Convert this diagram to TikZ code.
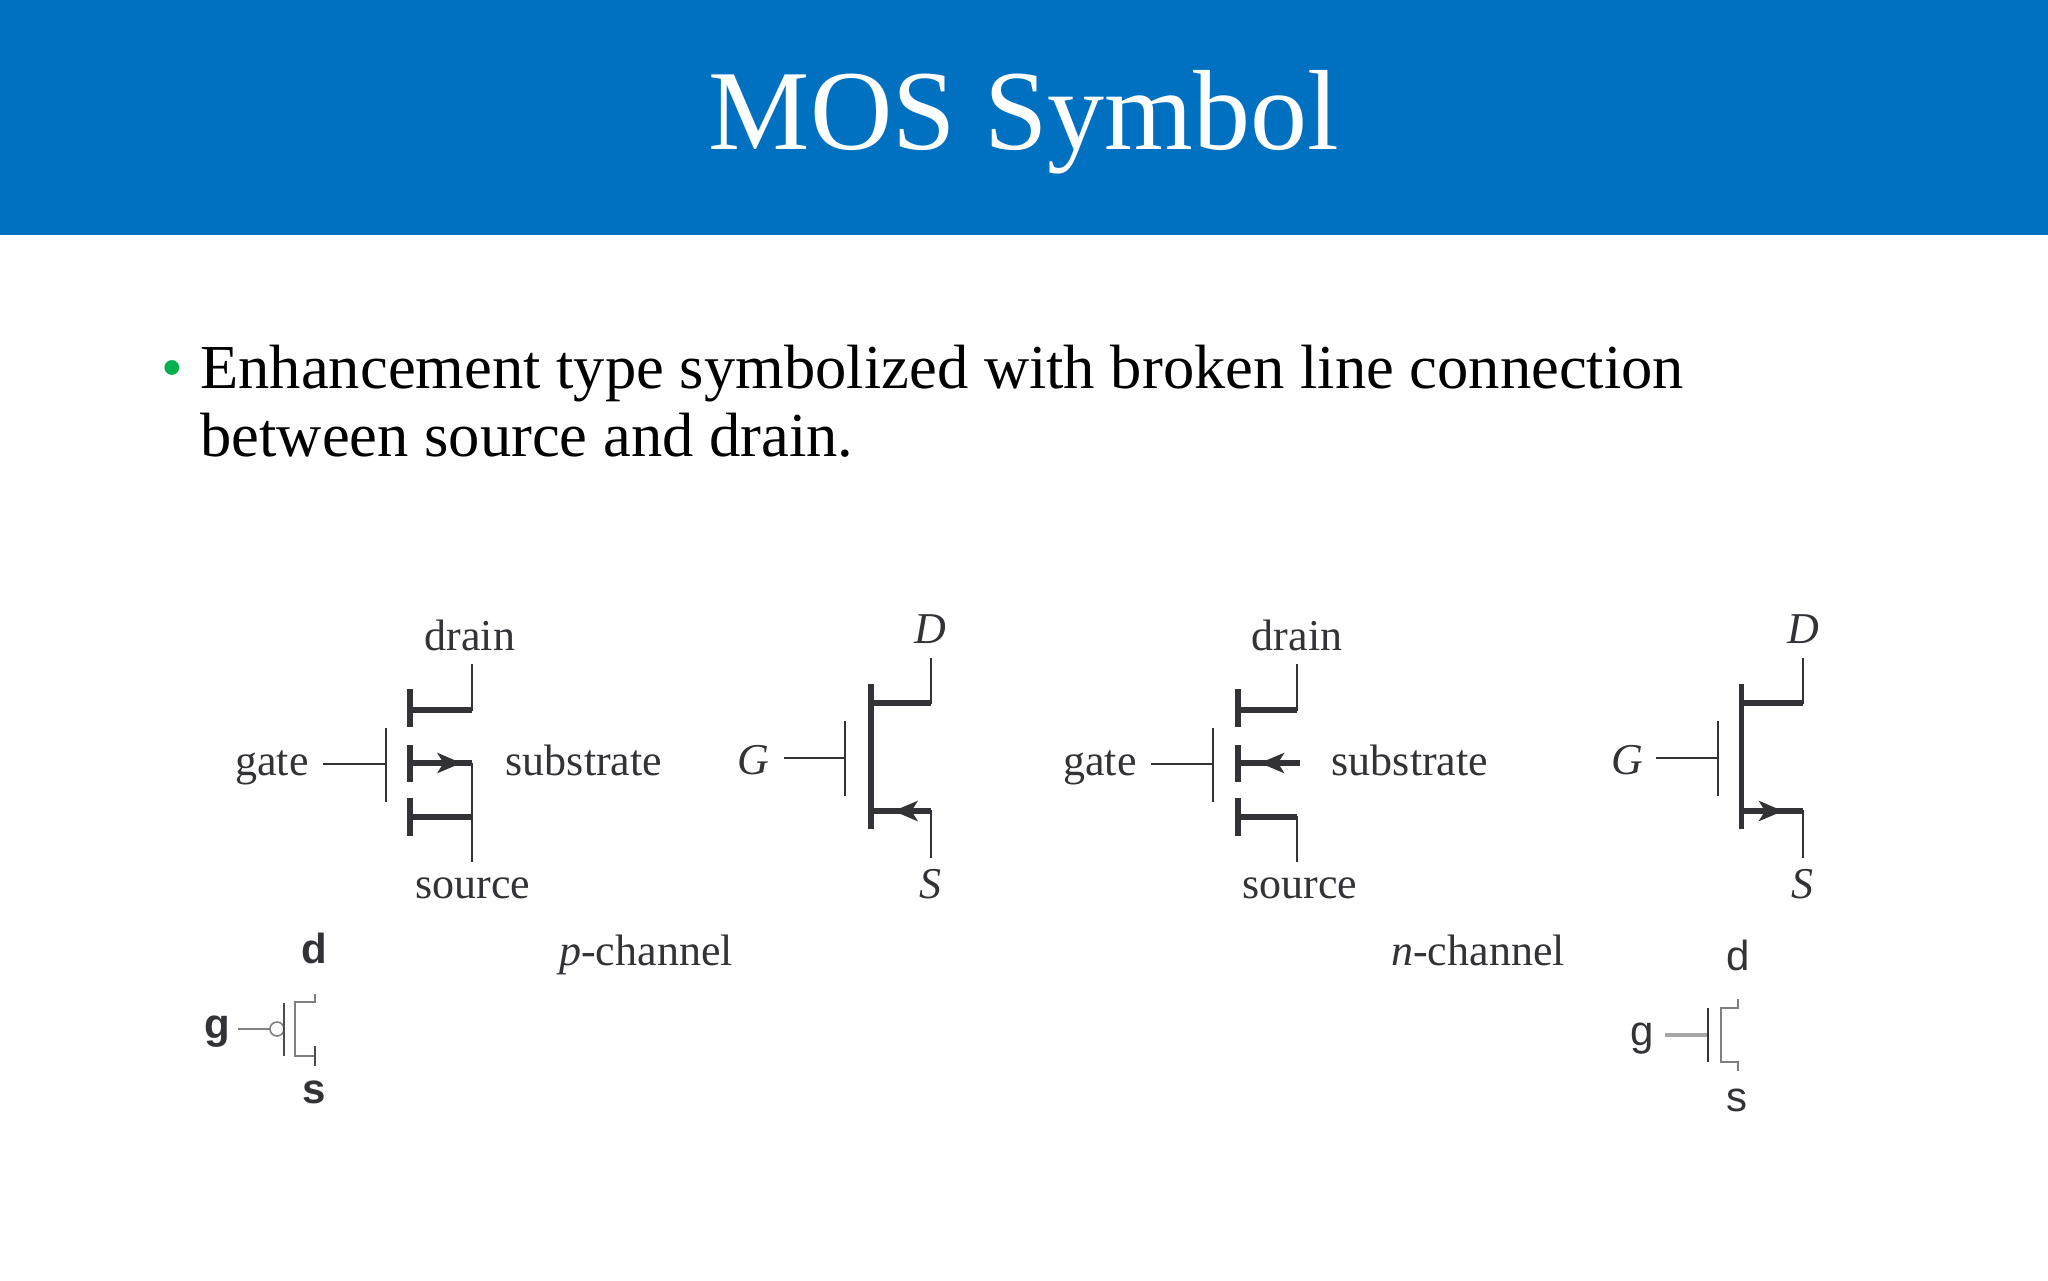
\documentclass[tikz,border=0pt]{standalone}
\usepackage{fontspec}
\setmainfont{Liberation Serif}
\setsansfont{Liberation Sans}
\usetikzlibrary{arrows.meta}
\definecolor{bandblue}{RGB}{0,112,192}
\definecolor{bulletgreen}{RGB}{0,176,80}
\definecolor{scanink}{RGB}{50,50,55}
\tikzset{
  thinline/.style={draw=scanink,line width=1pt},
  heavyline/.style={draw=scanink,line width=2.6pt},
  arrowline/.style={heavyline,-{Stealth[length=12pt,width=10pt,inset=3pt]}},
  lbl/.style={inner sep=0pt,text=scanink,font=\fontsize{22}{26}\selectfont},
  pinlbl/.style={inner sep=0pt,text=scanink,font=\fontsize{22}{26}\selectfont\itshape},
  smalllbl/.style={inner sep=0pt,text=scanink,font=\fontsize{21}{25}\selectfont\sffamily},
}
\begin{document}
\begin{tikzpicture}[x=0.5pt,y=-0.5pt]
\useasboundingbox (0,0) rectangle (2048,1280);
\fill[bandblue] (0,0) rectangle (2048,235);
\node[text=white,inner sep=0pt,anchor=base,font=\fontsize{57}{60}\selectfont] (title) at (1024,149.5) {MOS Symbol};
% bullet text
\node[text=bulletgreen,inner sep=0pt,anchor=base,font=\fontsize{31}{34}\selectfont] (dot) at (172,388) {•};
\node[inner sep=0pt,anchor=base west,font=\fontsize{31.28}{34}\selectfont] (lineA) at (200,388) {Enhancement type symbolized with broken line connection};
\node[inner sep=0pt,anchor=base west,font=\fontsize{31.28}{34}\selectfont] (lineB) at (200,456) {between source and drain.};

% p-channel, four terminals
\node[lbl] (drainP) at (470,635) {drain};
\node[lbl] (sourceP) at (473,888) {source};
\node[lbl] (gateP) at (272,768) {gate};
\node[lbl] (subP) at (584,760) {substrate};
\coordinate (gateinP) at (323,764);
\coordinate (plateP) at (386,764);
\draw[thinline] (gateinP)--(plateP);
\draw[thinline] (386,728)--(386,802);
\draw[heavyline] (410,689)--(410,727);
\draw[heavyline] (410,745)--(410,782);
\draw[heavyline] (410,798)--(410,836);
\draw[heavyline] (410,710)--(471.5,710);
\draw[thinline] (471.5,711)--(471.5,664);
\draw[heavyline] (410,763)--(471.5,763);
\draw[arrowline] (410,763)--(461.5,763);
\draw[heavyline] (410,817)--(471.5,817);
\draw[thinline] (471.5,763)--(471.5,862);

% p-channel, three terminals
\node[pinlbl] (DP) at (930,629) {D};
\node[pinlbl] (GP) at (753,760) {G};
\node[pinlbl] (SP) at (930,884) {S};
\draw[thinline] (784,758)--(845,758);
\draw[thinline] (845,721)--(845,796);
\draw[heavyline] (871,684)--(871,829);
\draw[heavyline] (871,703)--(930.5,703);
\draw[thinline] (930.5,704)--(930.5,658);
\draw[heavyline] (871,811)--(930.5,811);
\draw[arrowline] (930.5,811)--(893.5,811);
\draw[thinline] (930.5,810)--(930.5,858);

% n-channel, four terminals
\node[lbl] (drainN) at (1297,635) {drain};
\node[lbl] (sourceN) at (1300,888) {source};
\node[lbl] (gateN) at (1100,768) {gate};
\node[lbl] (subN) at (1410,760) {substrate};
\coordinate (gateinN) at (1151,764);
\coordinate (plateN) at (1212.5,764);
\draw[thinline] (gateinN)--(plateN);
\draw[thinline] (1212.5,728)--(1212.5,802);
\draw[heavyline] (1238,689)--(1238,727);
\draw[heavyline] (1238,745)--(1238,782);
\draw[heavyline] (1238,798)--(1238,836);
\draw[heavyline] (1238,710)--(1297,710);
\draw[thinline] (1297,711)--(1297,664);
\draw[arrowline] (1300,763)--(1260,763);
\draw[heavyline] (1238,763)--(1269,763);
\draw[heavyline] (1238,817)--(1297,817);
\draw[thinline] (1297,816)--(1297,862);

% n-channel, three terminals
\node[pinlbl] (DN) at (1803,629) {D};
\node[pinlbl] (GN) at (1627,760) {G};
\node[pinlbl] (SN) at (1802,884) {S};
\draw[thinline] (1656,758)--(1717.5,758);
\draw[thinline] (1717.5,721)--(1717.5,796);
\draw[heavyline] (1741.5,684)--(1741.5,829);
\draw[heavyline] (1741.5,703)--(1802.5,703);
\draw[thinline] (1802.5,704)--(1802.5,658);
\draw[heavyline] (1741.5,811)--(1802.5,811);
\draw[arrowline] (1741.5,811)--(1783,811);
\draw[thinline] (1802.5,810)--(1802.5,858);

% captions
\node[lbl] (capP) at (646,955) {\textit{p}-channel};
\node[lbl] (capN) at (1478,950) {\textit{n}-channel};

% small p symbol
\node[smalllbl,font=\fontsize{21}{25}\selectfont\sffamily\bfseries] (dP) at (314,948) {d};
\node[smalllbl,font=\fontsize{21}{25}\selectfont\sffamily\bfseries] (gP) at (217,1032) {g};
\node[smalllbl,font=\fontsize{21}{25}\selectfont\sffamily\bfseries] (sP) at (314,1092) {s};
\draw[draw=gray,line width=0.8pt] (238,1029)--(270,1029);
\draw[draw=gray,line width=0.8pt] (277,1029) circle (7);
\draw[draw=black!70,line width=0.9pt] (284,1003)--(284,1056);
\draw[draw=gray,line width=1pt] (315,994)--(315,1002)--(295,1002)--(295,1056)--(315,1056);
\draw[draw=black!70,line width=0.8pt] (315,1046)--(315,1066);

% small n symbol
\node[smalllbl] (dN) at (1738,955) {d};
\node[smalllbl] (gN) at (1642,1039) {g};
\node[smalllbl] (sN) at (1737,1100) {s};
\draw[draw=black!35,line width=1.8pt] (1665,1035)--(1708,1035);
\draw[draw=black!80,line width=0.8pt] (1708,1008)--(1708,1062);
\draw[draw=gray,line width=1pt] (1738,999)--(1738,1008)--(1721,1008)--(1721,1062)--(1738,1062)--(1738,1071);
\end{tikzpicture}
\end{document}
